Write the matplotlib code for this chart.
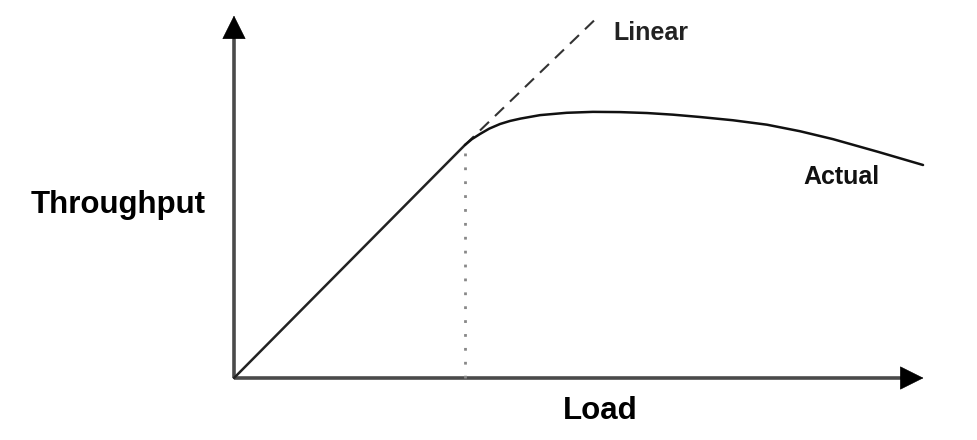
import matplotlib
matplotlib.use("Agg")
import matplotlib.pyplot as plt

# knee of the curve sits at load = 1, throughput = 1
linear_load = [0.0, 1.0]
linear_tp = [0.0, 1.0]
linear_ext_load = [1.0, 1.584]
linear_ext_tp = [1.0, 1.558]
actual_load = [1.000, 1.030, 1.065, 1.105, 1.152, 1.195, 1.240, 1.325, 1.440,
               1.554, 1.670, 1.788, 1.900, 2.017, 2.160, 2.307, 2.450, 2.593,
               2.790, 2.983]
actual_tp = [1.000, 1.025, 1.047, 1.070, 1.090, 1.103, 1.113, 1.128, 1.138,
             1.142, 1.141, 1.137, 1.130, 1.120, 1.106, 1.087, 1.059, 1.025,
             0.970, 0.914]
knee_load = 1.0
knee_tp = 0.97

plt.rcParams['font.family'] = ['Liberation Sans', 'DejaVu Sans']
fig = plt.figure(figsize=(9.78, 4.4), dpi=100)
ax = fig.add_axes([0, 0, 1, 1])
ax.set_xlim(-1.013, 3.221)
ax.set_ylim(-0.266, 1.622)
ax.axis('off')

# axes with arrow heads
x_tip, y_tip = 2.985, 1.555
ax.plot([0, x_tip - 0.05], [0, 0], color='#4a4a4a', lw=2.6, solid_capstyle='butt')
ax.plot([0, 0], [0, y_tip - 0.05], color='#4a4a4a', lw=2.6, solid_capstyle='butt')
head = dict(arrowstyle='-|>,head_length=0.8,head_width=0.4', color='black',
            mutation_scale=20, shrinkA=0, shrinkB=0, lw=0.5)
ax.annotate('', xy=(x_tip, 0), xytext=(x_tip - 0.1, 0), arrowprops=head)
ax.annotate('', xy=(0, y_tip), xytext=(0, y_tip - 0.1), arrowprops=head)

# curves
ax.plot(linear_load, linear_tp, color='#222222', lw=1.8, solid_capstyle='round')
ax.plot(linear_ext_load, linear_ext_tp, color='#333333', lw=1.5, dashes=(6, 4))
ax.plot(actual_load, actual_tp, color='#111111', lw=1.8,
        solid_capstyle='round', solid_joinstyle='round')
ax.plot([knee_load, knee_load], [0, knee_tp], color='#888888', lw=2.0,
        linestyle=(0, (1, 4)))

# labels
ax.text(-0.502, 0.708, 'Throughput', fontsize=22.5, fontweight='bold',
        ha='center', va='baseline')
ax.text(1.584, -0.176, 'Load', fontsize=22.5, fontweight='bold',
        ha='center', va='baseline')
ax.text(1.641, 1.451, 'Linear', fontsize=18, fontweight='bold',
        ha='left', va='baseline', color='#222222')
ax.text(2.463, 0.833, 'Actual', fontsize=18, fontweight='bold',
        ha='left', va='baseline', color='#111111')

fig.savefig('out.png', dpi=100)
